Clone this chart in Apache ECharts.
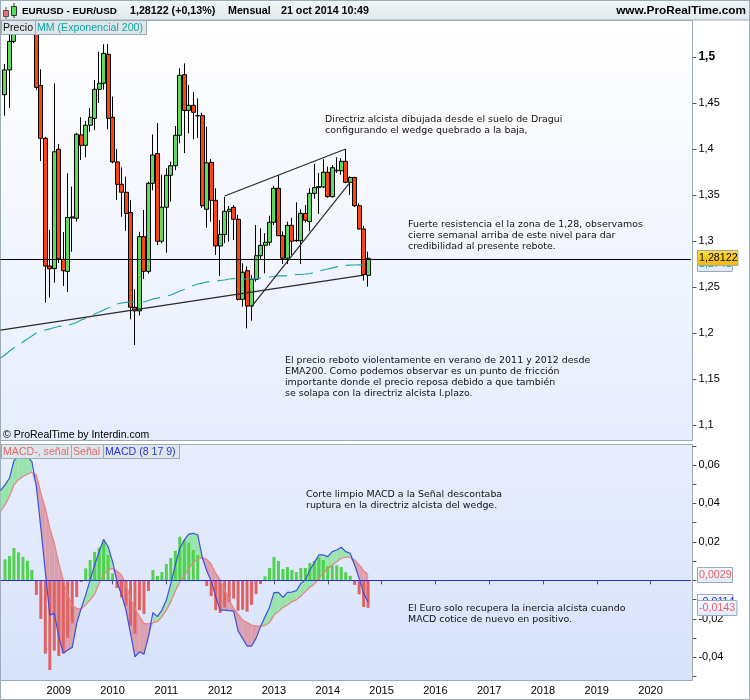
<!DOCTYPE html>
<html><head><meta charset="utf-8">
<style>html,body{margin:0;padding:0;background:#fff}#c{width:750px;height:700px}</style>
<script src="https://cdn.jsdelivr.net/npm/echarts@6/dist/echarts.min.js"></script>
</head><body><div id="c"></div>
<script>
// Monthly candles, Jan 2008 - Oct 2014
const opens = [1.459,1.486,1.517,1.581,1.561,1.555,1.5755,1.5605,1.469,1.4116,1.2728,1.27,1.3997,1.28,1.267,1.3262,1.3247,1.4153,1.404,1.4258,1.4333,1.4649,1.4714,1.503,1.4345,1.386,1.3616,1.353,1.331,1.228,1.224,1.3047,1.267,1.3627,1.395,1.2997,1.3367,1.3714,1.3818,1.4149,1.4808,1.442,1.4475,1.4362,1.4362,1.3345,1.3855,1.3442,1.2946,1.3072,1.3323,1.3366,1.3236,1.2366,1.2677,1.2293,1.2584,1.284,1.2953,1.2986,1.3203,1.3573,1.3058,1.2812,1.317,1.3003,1.3003,1.33,1.3211,1.3518,1.358,1.3587,1.3747,1.3482,1.3763,1.3763,1.3866,1.3638,1.369,1.3384,1.313,1.2627];
const closes = [1.486,1.517,1.581,1.561,1.555,1.5755,1.5605,1.467,1.4116,1.2728,1.2698,1.397,1.2807,1.2677,1.3257,1.325,1.416,1.404,1.4258,1.4345,1.4649,1.4714,1.504,1.4333,1.386,1.3616,1.353,1.33,1.228,1.224,1.3047,1.267,1.3627,1.3935,1.2997,1.3367,1.3714,1.3818,1.4149,1.4801,1.442,1.4475,1.4399,1.436,1.3384,1.385,1.3442,1.2946,1.3072,1.3323,1.3345,1.3236,1.2366,1.266,1.2293,1.2584,1.284,1.2953,1.2986,1.3203,1.3573,1.3058,1.2812,1.317,1.2997,1.3007,1.33,1.3225,1.3518,1.358,1.3592,1.3747,1.3482,1.3797,1.377,1.3866,1.3638,1.369,1.3384,1.313,1.2635,1.2812];
const lows = [1.4362,1.4446,1.515,1.555,1.53,1.54,1.5285,1.464,1.387,1.233,1.2384,1.2546,1.276,1.251,1.2446,1.2884,1.321,1.388,1.391,1.4188,1.4205,1.45,1.4645,1.4215,1.3845,1.3446,1.3264,1.311,1.2149,1.187,1.219,1.2587,1.2645,1.355,1.2955,1.2975,1.2873,1.3427,1.377,1.4062,1.3956,1.417,1.4105,1.412,1.336,1.3145,1.321,1.2848,1.262,1.2976,1.2992,1.3011,1.2354,1.2287,1.205,1.2134,1.2558,1.2805,1.2649,1.295,1.3175,1.3055,1.275,1.275,1.2848,1.299,1.275,1.32,1.3105,1.346,1.3294,1.3575,1.347,1.347,1.374,1.372,1.3628,1.35,1.337,1.3125,1.2569,1.2503];
const highs = [1.4925,1.535,1.59,1.6,1.5815,1.5845,1.6038,1.564,1.4867,1.4132,1.312,1.4713,1.4054,1.3098,1.3736,1.3592,1.4175,1.4345,1.4304,1.4446,1.475,1.5058,1.5138,1.514,1.457,1.4,1.38,1.37,1.3444,1.2475,1.31,1.3337,1.3645,1.4157,1.4282,1.372,1.379,1.3862,1.425,1.4877,1.4931,1.4696,1.4622,1.455,1.4395,1.4243,1.389,1.3573,1.3228,1.348,1.338,1.339,1.3285,1.2757,1.2725,1.263,1.3174,1.3138,1.3084,1.3275,1.36,1.3717,1.3104,1.321,1.3253,1.342,1.3345,1.3392,1.3573,1.3837,1.374,1.3889,1.3808,1.3825,1.391,1.39,1.4,1.3705,1.37,1.341,1.3165,1.2884];
// EMA 200, Dec 2007 - Oct 2014
const ema200 = [1.1728,1.1761,1.1804,1.1837,1.187,1.1902,1.1935,1.1967,1.2,1.2022,1.2033,1.2044,1.206,1.2071,1.2076,1.2082,1.2098,1.2114,1.2141,1.2158,1.2179,1.2207,1.2228,1.225,1.2272,1.2293,1.2315,1.2326,1.2332,1.2337,1.2337,1.2337,1.2337,1.2353,1.237,1.238,1.2391,1.2402,1.2413,1.2435,1.2457,1.2473,1.2495,1.2516,1.2533,1.2543,1.2554,1.256,1.2565,1.2571,1.2576,1.2587,1.2592,1.2587,1.2587,1.2587,1.2587,1.2592,1.2598,1.2603,1.2609,1.2614,1.262,1.262,1.2625,1.263,1.2636,1.2636,1.2641,1.2647,1.2658,1.2674,1.2685,1.2696,1.2707,1.2718,1.2728,1.2734,1.2737,1.2739,1.274,1.2741,1.2741];
const lastPrice = 1.28122;
const trendLong = [[0,1.2032],[81,1.263]];
const wedgeTop = [[50,1.3489],[77,1.4]];
const wedgeBottom = [[56,1.2288],[78,1.3641]];
// MACD panel, Dec 2007 - Oct 2014
const macdLine = [0.0467,0.0497,0.0531,0.0623,0.0644,0.0644,0.0644,0.0618,0.0488,0.0271,0.0045,-0.0181,-0.0172,-0.0293,-0.038,-0.0363,-0.0349,-0.0224,-0.0146,-0.0076,0.0002,0.008,0.0149,0.0214,0.0175,0.0097,-0.0007,-0.0076,-0.0155,-0.0276,-0.0398,-0.0372,-0.0384,-0.0293,-0.0168,-0.0189,-0.0155,-0.0102,-0.0016,0.008,0.0167,0.021,0.024,0.0245,0.0236,0.012,0.005,-0.0003,-0.0085,-0.0155,-0.0155,-0.0158,-0.016,-0.0264,-0.0302,-0.0342,-0.0342,-0.0302,-0.0241,-0.0189,-0.0141,-0.0064,-0.0063,-0.0089,-0.0063,-0.0061,-0.0054,-0.0016,0.0002,0.0054,0.0092,0.0132,0.0132,0.0123,0.0149,0.0158,0.0172,0.0149,0.0141,0.008,0.001,-0.0068,-0.0114];
const signalLine = [0.0358,0.0392,0.0436,0.0497,0.0523,0.054,0.0552,0.0562,0.0549,0.0453,0.0375,0.0271,0.0193,0.0089,0.0002,-0.0076,-0.0132,-0.0146,-0.0149,-0.0128,-0.0102,-0.0073,-0.0016,0.0028,0.0054,0.0062,0.0049,0.0028,-0.0024,-0.0094,-0.0146,-0.0189,-0.0224,-0.0227,-0.022,-0.0215,-0.0189,-0.0155,-0.0111,-0.0055,-0.001,0.0024,0.006,0.0092,0.0112,0.0118,0.0109,0.0085,0.0036,0.0002,-0.0047,-0.0102,-0.0146,-0.0177,-0.0207,-0.022,-0.0233,-0.0238,-0.0238,-0.0234,-0.022,-0.0181,-0.0163,-0.0141,-0.0128,-0.0111,-0.0102,-0.0082,-0.0059,-0.0036,-0.0019,0.001,0.0036,0.0059,0.008,0.0097,0.0115,0.012,0.012,0.0106,0.008,0.005,0.0029];
const histogram = [null,0.0109,0.0127,0.0168,0.0146,0.0122,0.0102,0.0054,-0.0076,-0.0201,-0.0382,-0.0467,-0.0366,-0.0394,-0.038,-0.03,-0.0224,-0.0087,-0.0009,0.0062,0.0106,0.0148,0.017,0.02,0.0132,0.0036,-0.004,-0.0089,-0.0132,-0.0236,-0.0278,-0.0155,-0.0175,-0.0056,0.0054,0.0023,0.0043,0.0085,0.0116,0.0153,0.0227,0.021,0.0196,0.0158,0.0132,0.0002,-0.003,-0.0082,-0.0155,-0.017,-0.0141,-0.0113,-0.0095,-0.0158,-0.0153,-0.0163,-0.0128,-0.0071,-0.0019,0.0021,0.0064,0.0122,0.0101,0.0059,0.0069,0.0054,0.0043,0.0064,0.0064,0.009,0.0101,0.012,0.0106,0.0075,0.0078,0.0078,0.0069,0.0042,0.0023,-0.0024,-0.0073,-0.0139,-0.0143];
// Time axis: Dec 2007 - Oct 2020
const months = [];
for (let y = 2007, m = 12; months.length < 155; ) { months.push(y + '-' + String(m).padStart(2,'0')); m++; if (m > 12) { m = 1; y++; } }
const yearTicks = ['2009','2010','2011','2012','2013','2014','2015','2016','2017','2018','2019','2020'];

const notes = [
 {x:325,y:119.5,t:'Directriz alcista dibujada desde el suelo de Dragui'},
 {x:325,y:130.5,t:'configurando el wedge quebrado a la baja,'},
 {x:408,y:224.5,t:'Fuerte resistencia el la zona de 1,28, observamos'},
 {x:408,y:235.5,t:'cierre semanal arriba de este nivel para dar'},
 {x:408,y:246.5,t:'credibilidad al presente rebote.'},
 {x:285,y:360.5,t:'El precio reboto violentamente en verano de 2011 y 2012 desde'},
 {x:285,y:371.5,t:'EMA200. Como podemos observar es un punto de fricción'},
 {x:285,y:382.5,t:'importante donde el precio reposa debido a que también'},
 {x:285,y:393.5,t:'se solapa con la directriz alcista l.plazo.'},
 {x:306,y:494.5,t:'Corte limpio MACD a la Señal descontaba'},
 {x:306,y:505.5,t:'ruptura en la directriz alcista del wedge.'},
 {x:408,y:608.5,t:'El Euro solo recupera la inercia alcista cuando'},
 {x:408,y:619.5,t:'MACD cotice de nuevo en positivo.'}
];
const GREY = '#9cacb6';
const SANS = '"Liberation Sans",Arial,sans-serif';
const grad = (a,b) => new echarts.graphic.LinearGradient(0,0,0,1,[{offset:0,color:a},{offset:1,color:b}]);
const rect = (x,y,w,h,fill,stroke,z) => ({type:'rect',z:z,shape:{x,y,width:w,height:h},style:{fill:fill,stroke:stroke||null,lineWidth:1}});
const text = (x,y,t,o) => ({type:'text',z:o.z||60,x,y,style:Object.assign({text:t,fill:'#000',font:'11px '+SANS,textVerticalAlign:'middle',textAlign:'left'},o.style||{})});
const legendBox = (x,w,y,t,c) => [rect(x+.5,y+.5,w,14,'#dfe6ea',GREY,50),text(x+2,y+8,t,{style:{fill:c,font:'10.6px '+SANS}})];

const graphics = [
 rect(.5,.5,749,699,'#fff',GREY,-20),
 rect(.5,.5,749,19.5,grad('#f3f7f9','#dfe8ec'),GREY,45),
 rect(.5,20.5,692,420,grad('#ffffff','#e6edfe'),GREY,-10),
 rect(.5,444.5,692,236,grad('#e8eefe','#d7e2fb'),GREY,-10),
 rect(3.5,10.5,5,6,'#f07070','#555',60),
 rect(11.5,6.5,5,9,'#55dd55','#333',60),
 {type:'line',z:59,shape:{x1:6,y1:7,x2:6,y2:19},style:{stroke:'#555'}},
 {type:'line',z:59,shape:{x1:14,y1:3,x2:14,y2:18},style:{stroke:'#333'}},
 text(22,11,'EURUSD - EUR/USD',{style:{font:'bold 9.9px '+SANS}}),
 text(130,11,'1,28122 (+0,13%)',{style:{font:'bold 10.7px '+SANS}}),
 text(228,11,'Mensual',{style:{font:'bold 10.7px '+SANS}}),
 text(281,11,'21 oct 2014 10:49',{style:{font:'bold 10.7px '+SANS}}),
 text(746,11,'www.ProRealTime.com',{style:{font:'bold 11.8px '+SANS,textAlign:'right'}}),
 text(3,435,'© ProRealTime by Interdin.com',{style:{font:'10.5px '+SANS}}),
 ...legendBox(1,34,20,'Precio','#111'),
 ...legendBox(35,111,20,'MM (Exponencial 200)','#12a5a5'),
 ...legendBox(1,70,444,'MACD-, señal','#e06b6b'),
 ...legendBox(71,32,444,'Señal','#e06b6b'),
 ...legendBox(103,76,444,'MACD (8 17 9)','#2436e0'),
 rect(697.5,256.5,35,15,grad('#f5f8ff','#dfe7fb'),GREY,70),
 text(699,264,'1,2741',{z:71,style:{fill:'#12a5a5',font:'10.7px '+SANS}}),
 rect(697.5,250.5,40.5,15,grad('#ffdf3d','#f7b500'),GREY,72),
 text(699,258.5,'1,28122',{z:73,style:{font:'10.7px '+SANS}}),
 rect(697.5,567.5,35,15,grad('#f5f8ff','#dfe7fb'),GREY,70),
 text(699,575.5,'0,0029',{z:71,style:{fill:'#e86464',font:'10.7px '+SANS}}),
 rect(697.5,594.5,35.5,15,grad('#f5f8ff','#dfe7fb'),GREY,70),
 text(699,602,'-0,0114',{z:71,style:{fill:'#2436e0',font:'10.7px '+SANS}}),
 rect(697.5,600.5,39.5,15,grad('#f5f8ff','#dfe7fb'),GREY,72),
 text(699,608.5,'-0,0143',{z:73,style:{fill:'#e86464',font:'10.7px '+SANS}}),
 ...notes.map(n => text(n.x,n.y,n.t,{z:40,style:{font:'9.45px "DejaVu Sans",Verdana,sans-serif',fill:'#111'}}))
];

const chart = echarts.init(document.getElementById('c'),null,{renderer:'canvas',width:750,height:700});

function renderBand(params, api) {
  const i = api.value(0);
  if (i >= macdLine.length - 1) return;
  const m0 = macdLine[i], m1 = macdLine[i+1], s0 = signalLine[i], s1 = signalLine[i+1];
  const d0 = m0 - s0, d1 = m1 - s1;
  const up = '#99e4ac', dn = '#dba0ad';
  const pt = (x,v) => api.coord([x,v]);
  const poly = (pts,c) => ({type:'polygon',shape:{points:pts},style:{fill:c}});
  if (d0 * d1 >= 0) {
    return poly([pt(i,m0),pt(i+1,m1),pt(i+1,s1),pt(i,s0)], (d0 + d1) >= 0 ? up : dn);
  }
  const t = d0 / (d0 - d1), xc = i + t, vc = m0 + (m1 - m0) * t;
  return {type:'group',children:[
    poly([pt(i,m0),pt(xc,vc),pt(i,s0)], d0 > 0 ? up : dn),
    poly([pt(xc,vc),pt(i+1,m1),pt(i+1,s1)], d1 > 0 ? up : dn)
  ]};
}

const trend = (d) => ({type:'line',data:d,xAxisIndex:0,yAxisIndex:0,symbol:'none',silent:true,z:6,
  lineStyle:{color:'#2a2a2a',width:1.2}});

chart.setOption({
  animation:false,
  backgroundColor:'transparent',
  graphic:{elements:graphics},
  grid:[
    {left:.5,width:690.4,top:11,height:414},
    {left:.5,width:690.4,top:445.8,height:230.6}
  ],
  xAxis:[
    {type:'category',gridIndex:0,data:months,boundaryGap:false,show:false},
    {type:'category',gridIndex:1,data:months,boundaryGap:false,offset:4,
      axisLine:{show:false},
      axisTick:{length:4,alignWithLabel:true,lineStyle:{color:'#555'},interval:(i,v)=>v.endsWith('-01')&&yearTicks.includes(v.slice(0,4))},
      axisLabel:{interval:(i,v)=>v.endsWith('-01')&&yearTicks.includes(v.slice(0,4)),formatter:v=>v.slice(0,4),color:'#000',fontFamily:SANS,fontSize:11,margin:5,hideOverlap:false}}
  ],
  yAxis:[
    {type:'value',gridIndex:0,position:'right',offset:1.5,min:1.1,max:1.55,interval:0.05,
      axisLine:{show:false},axisTick:{show:true,length:4,lineStyle:{color:'#555'}},
      splitLine:{show:false},
      axisLabel:{margin:6,color:'#000',fontFamily:SANS,fontSize:11,
        rich:{b:{fontWeight:'bold',fontSize:12,fontFamily:SANS,color:'#000'}},
        formatter:v=>{const r=Math.round(v*100)/100; if(r>=1.55) return ''; const s=String(r).replace('.',','); return r===1.5?'{b|'+s+'}':s;}}},
    {type:'value',gridIndex:1,position:'right',offset:1.5,min:-0.05,max:0.07,interval:0.01,
      axisLine:{show:false},axisTick:{show:true,length:4,lineStyle:{color:'#555'}},
      splitLine:{show:false},
      axisLabel:{margin:6,color:'#000',fontFamily:SANS,fontSize:11,
        formatter:v=>{const r=Math.round(v*100); if(r%2!==0) return ''; return String(r/100).replace('.',',');}}}
  ],
  series:[
    {type:'candlestick',xAxisIndex:0,yAxisIndex:0,barWidth:4.5,clip:true,z:4,silent:true,
      data:[['-','-','-','-']].concat(opens.map((o,i)=>[o,closes[i],lows[i],highs[i]])),
      itemStyle:{color:'#5cdc5c',color0:'#ff4410',borderColor:'#000',borderColor0:'#000',borderColorDoji:'#000',borderWidth:1},
      markLine:{silent:true,symbol:'none',animation:false,label:{show:false},lineStyle:{color:'#000',width:1,type:'solid'},data:[{yAxis:lastPrice}]}},
    {type:'line',xAxisIndex:0,yAxisIndex:0,data:ema200,symbol:'none',silent:true,z:5,
      lineStyle:{color:'#1fa8a8',width:1.2,type:[18,8]}},
    trend(trendLong),trend(wedgeTop),trend(wedgeBottom),
    {type:'custom',xAxisIndex:1,yAxisIndex:1,z:2,silent:true,renderItem:renderBand,
      data:macdLine.map((v,i)=>[i,v]),encode:{x:0,y:1}},
    {type:'bar',xAxisIndex:1,yAxisIndex:1,data:histogram,barWidth:3,z:3,silent:true,
      itemStyle:{color:p=>p.value>=0?'#50d24e':'#e26262'}},
    {type:'line',xAxisIndex:1,yAxisIndex:1,data:signalLine,symbol:'none',silent:true,z:4,
      lineStyle:{color:'#ea8080',width:1.2}},
    {type:'line',xAxisIndex:1,yAxisIndex:1,data:macdLine,symbol:'none',silent:true,z:5,
      lineStyle:{color:'#3d4fe0',width:1.2},
      markLine:{silent:true,symbol:'none',animation:false,label:{show:false},lineStyle:{color:'#2a2fe0',width:1,type:'solid'},data:[{yAxis:0}]}}
  ]
});
</script></body></html>
